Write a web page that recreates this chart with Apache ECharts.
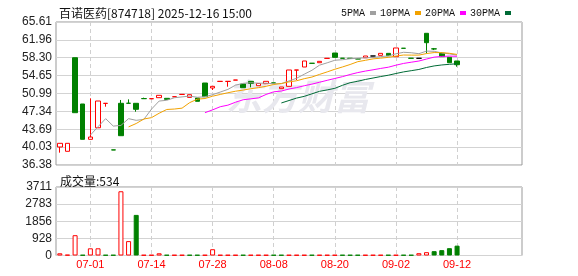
<!DOCTYPE html>
<html><head><meta charset="utf-8">
<script src="https://cdn.jsdelivr.net/npm/echarts@6/dist/echarts.min.js"></script>
<style>html,body{margin:0;padding:0;background:#fff}#c{width:578px;height:276px}</style>
</head><body><div id="c"></div>
<script>
const dates = ['06-25','06-26','06-27','06-30','07-01','07-02','07-03','07-04','07-07','07-08','07-09','07-10','07-14','07-15','07-16','07-17','07-18','07-21','07-22','07-23','07-28','07-29','07-30','07-31','08-01','08-04','08-05','08-06','08-08','08-11','08-12','08-13','08-14','08-15','08-18','08-19','08-20','08-21','08-22','08-25','08-26','08-27','08-28','08-29','09-02','09-03','09-04','09-05','09-08','09-09','09-10','09-11','09-12'];
const opens  = [40.06,39.18,58.31,48.85,41.63,43.99,48.97,39.47,48.99,49.01,48.99,49.96,49.92,50.14,50.01,50.32,50.80,50.20,50.07,53.14,52.12,53.46,53.46,53.73,52.94,53.48,52.59,53.00,53.16,51.98,52.46,55.78,56.41,57.18,57.29,58.17,59.27,58.21,58.19,58.07,58.30,58.66,58.80,59.20,58.52,60.25,58.21,58.19,63.30,60.12,59.20,58.39,57.64];
const closes = [40.81,40.81,47.07,41.63,42.10,49.46,48.99,39.45,42.37,48.99,47.76,49.94,49.94,50.62,49.80,50.34,50.82,50.75,49.40,50.34,52.46,53.48,53.48,53.75,52.18,53.04,53.04,53.48,53.14,52.32,55.80,55.80,57.64,57.16,57.57,58.19,58.39,58.19,58.17,58.05,58.66,58.66,59.20,58.72,60.30,60.23,58.19,58.19,61.38,60.10,58.52,57.29,56.88];
const lows   = [38.90,39.18,47.07,41.63,41.63,43.99,48.30,39.45,42.37,48.99,47.27,49.94,49.92,50.14,49.80,50.32,50.80,50.20,49.40,50.34,51.71,53.46,52.39,53.73,52.18,52.26,52.59,53.00,53.14,51.98,52.46,53.75,56.41,57.16,57.29,58.17,58.39,58.19,58.17,58.05,58.30,58.66,58.80,58.72,58.52,60.23,58.19,58.19,59.20,59.88,58.52,57.29,56.47];
const highs  = [40.81,40.81,58.31,48.85,50.01,49.46,48.99,39.47,49.67,49.80,48.99,50.14,49.94,50.62,50.01,50.34,50.82,50.75,50.07,53.14,52.46,53.48,53.48,53.75,52.94,53.48,53.04,53.48,53.16,52.32,55.80,55.80,57.64,57.18,57.57,58.19,59.27,58.21,58.19,58.07,58.66,58.66,59.20,59.20,60.30,60.25,58.21,58.19,63.30,60.30,59.40,58.39,57.64];
const volumes = [120,40,1100,30,390,390,30,30,3480,780,2200,30,30,120,30,30,30,30,30,30,340,30,30,30,30,30,30,30,30,30,30,30,30,30,30,30,30,30,30,30,30,30,30,30,30,30,30,125,180,235,290,397,534];
const ma5  = [42.48,44.21,45.85,44.33,44.47,45.85,45.51,45.70,47.80,49.45,49.61,50.13,50.30,50.47,50.22,50.33,50.75,51.29,51.83,52.70,53.07,53.19,53.10,53.10,52.98,53.00,53.56,54.11,54.94,55.74,56.79,57.27,57.79,57.90,58.10,58.20,58.29,58.35,58.55,58.66,59.11,59.42,59.33,59.13,59.66,59.62,59.28,59.10,58.83];
const ma10 = [44.17,44.86,45.78,46.06,46.96,47.73,47.82,48.00,49.13,49.84,49.97,50.44,50.80,51.15,51.46,51.70,51.97,52.19,52.47,52.84,53.04,53.37,53.60,54.02,54.36,54.90,55.41,55.95,56.42,56.92,57.50,57.78,58.07,58.22,58.38,58.65,58.86,58.84,58.84,59.16,59.36,59.35,59.21,58.98];
const ma20 = [47.07,47.65,48.29,48.61,49.21,49.72,49.90,50.10,50.80,51.34,51.50,51.91,52.20,52.58,52.91,53.30,53.69,54.07,54.44,54.88,55.27,55.58,55.84,56.12,56.37,56.78,57.14,57.39,57.63,58.04,58.43,58.57,58.64,58.60];
const ma30 = [49.06,49.56,50.06,50.41,50.93,51.44,51.73,52.05,52.67,53.20,53.50,53.86,54.16,54.46,54.73,55.08,55.41,55.66,55.91,56.31,56.63,56.83,56.96,57.07];
const priceTicks = ['36.38','40.03','43.69','47.34','50.99','54.65','58.30','61.96','65.61'];
const volTicks = ['0','928','1856','2783','3711'];
const lastVolume = '534';

const padSlots = 8;
const cats = dates.concat(Array.from({length: padSlots}, (_, k) => 'p' + k));
const lead = n => Array(n).fill('-');
const showIdx = i => i % 8 === 4 && i < dates.length;

const candleData = opens.map((o, i) => [o, closes[i], lows[i], highs[i]]);
const volData = volumes.map((v, i) => {
  const up = i === 0 || closes[i] >= closes[i - 1];
  return { value: v, itemStyle: up
    ? { color: '#fff', borderColor: '#ff0000', borderWidth: 1 }
    : { color: '#008000', borderColor: '#008000', borderWidth: 1 } };
});

const gridLine = { show: true, lineStyle: { color: '#d3d3d3', width: 1, type: 'solid' } };
const vLine = { show: true, interval: showIdx, alignWithLabel: true, lineStyle: { color: '#d0d0d0', width: 1, type: [4, 3] } };
const axisFont = { fontFamily: 'Liberation Sans', fontSize: 12, color: '#222' };

const chart = echarts.init(document.getElementById('c'), null, { renderer: 'canvas' });
chart.setOption({
  animation: false,
  backgroundColor: '#fff',
  title: [
    { text: '百诺医药[874718] 2025-12-16 15:00', left: 54, top: 2,
      textStyle: { fontFamily: 'Noto Sans CJK SC', fontSize: 12, fontWeight: 'normal', color: '#111' } },
    { text: '成交量:' + lastVolume, left: 55, top: 170,
      textStyle: { fontFamily: 'Noto Sans CJK SC', fontSize: 12, fontWeight: 'normal', color: '#111' } }
  ],
  legend: {
    left: 336, top: 3, align: 'right', icon: 'rect', itemWidth: 6, itemHeight: 4, itemGap: 4,
    textStyle: { fontFamily: 'Liberation Mono', fontSize: 10, color: '#111' },
    data: ['5PMA', '10PMA', '20PMA', '30PMA']
  },
  graphic: [{
    type: 'text', left: 226, top: 78, z: 1, silent: true,
    style: { text: '东方财富', font: 'italic bold 36px "Noto Sans CJK SC"', fill: '#e8e8ee' }
  }],
  grid: [
    { left: 56, right: 56, top: 22, bottom: 111, show: true, borderColor: '#999', borderWidth: 1 },
    { left: 56, right: 56, top: 187, bottom: 20.5, show: true, borderColor: '#999', borderWidth: 1 }
  ],
  xAxis: [
    { type: 'category', gridIndex: 0, data: cats, boundaryGap: true,
      axisLine: { show: false }, axisTick: { show: false }, axisLabel: { show: false }, splitLine: vLine },
    { type: 'category', gridIndex: 1, data: cats, boundaryGap: true,
      axisLine: { show: false }, axisTick: { show: false },
      axisLabel: { show: true, interval: showIdx, margin: 4, fontFamily: 'Liberation Sans', fontSize: 11, color: '#ff0000' },
      splitLine: vLine }
  ],
  yAxis: [
    { type: 'value', gridIndex: 0, min: 36.38, max: 65.61, interval: 3.65375, scale: true,
      axisLine: { show: false }, axisTick: { show: false }, splitLine: gridLine,
      axisLabel: Object.assign({ margin: 4, formatter: (v, i) => priceTicks[i] }, axisFont) },
    { type: 'value', gridIndex: 1, min: 0, max: 3711, interval: 927.75,
      axisLine: { show: false }, axisTick: { show: false }, splitLine: gridLine,
      axisLabel: Object.assign({ margin: 4, formatter: (v, i) => volTicks[i] }, axisFont) }
  ],
  series: [
    { name: 'K', type: 'candlestick', xAxisIndex: 0, yAxisIndex: 0, barWidth: 5, z: 3,
      data: candleData,
      itemStyle: { color: '#ffffff', color0: '#008000', borderColor: '#ff0000', borderColor0: '#008000', borderColorDoji: '#000000', borderWidth: 1 } },
    { name: '5PMA', type: 'line', data: lead(4).concat(ma5), symbol: 'none', z: 4,
      lineStyle: { color: '#a0a0a0', width: 1 }, itemStyle: { color: '#a0a0a0' } },
    { name: '10PMA', type: 'line', data: lead(9).concat(ma10), symbol: 'none', z: 4,
      lineStyle: { color: '#f2a200', width: 1 }, itemStyle: { color: '#f2a200' } },
    { name: '20PMA', type: 'line', data: lead(19).concat(ma20), symbol: 'none', z: 4,
      lineStyle: { color: '#ff00ff', width: 1 }, itemStyle: { color: '#ff00ff' } },
    { name: '30PMA', type: 'line', data: lead(29).concat(ma30), symbol: 'none', z: 4,
      lineStyle: { color: '#006b36', width: 1 }, itemStyle: { color: '#006b36' } },
    { name: 'VOL', type: 'bar', xAxisIndex: 1, yAxisIndex: 1, barWidth: 5, data: volData }
  ]
});
</script></body></html>
